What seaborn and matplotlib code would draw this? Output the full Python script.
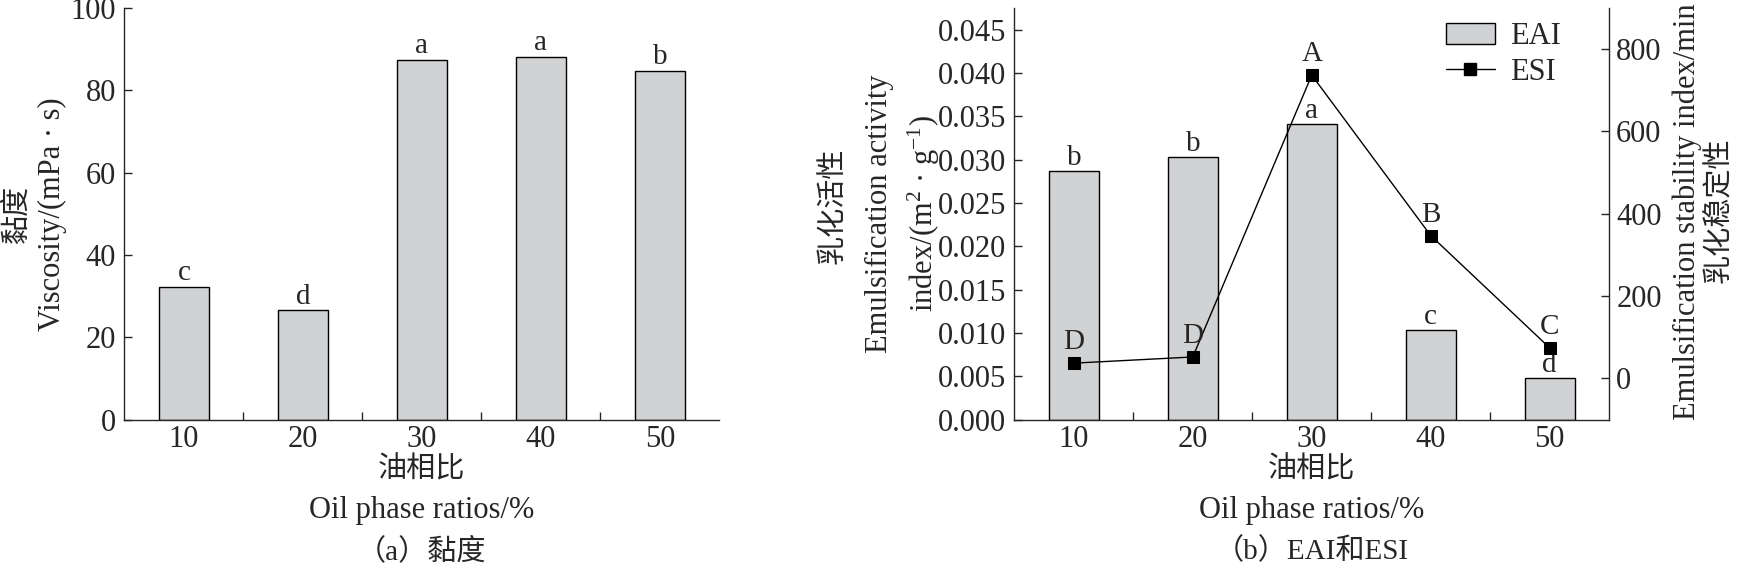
import numpy as np
import pandas as pd
import seaborn as sns
import matplotlib.pyplot as plt
from matplotlib.patches import Patch
from matplotlib.lines import Line2D
from matplotlib.ticker import FormatStrFormatter

# data
ratios = ['10', '20', '30', '40', '50']
viscosity = [32.3, 26.5, 87.4, 88.1, 84.6]
visc_letters = ['c', 'd', 'a', 'a', 'b']
eai = [0.0287, 0.0303, 0.0341, 0.0103, 0.0048]
eai_letters = ['b', 'b', 'a', 'c', 'd']
esi = [37, 52, 737, 347, 74]
esi_letters = ['D', 'D', 'A', 'B', 'C']

sns.set_style('ticks')
plt.rcParams['font.family'] = ['Liberation Serif', 'Noto Sans CJK SC']
plt.rcParams['mathtext.fontset'] = 'custom'
plt.rcParams['mathtext.rm'] = 'Liberation Serif'
plt.rcParams['mathtext.it'] = 'Liberation Serif:italic'
plt.rcParams['axes.linewidth'] = 1.0
plt.rcParams['xtick.direction'] = 'in'
plt.rcParams['ytick.direction'] = 'in'

bar_color = '#d1d2d4'
tick_fs = 22
lab_fs = 22
cjk_fs = 21
let_fs = 21

fig = plt.figure(figsize=(17.38, 5.67), dpi=100)
ax1 = fig.add_axes([0.0716, 0.2601, 0.3423, 0.7257])
ax2 = fig.add_axes([0.5836, 0.2601, 0.3423, 0.7257])

# (a) viscosity
df1 = pd.DataFrame({'ratio': ratios, 'viscosity': viscosity})
sns.barplot(data=df1, x='ratio', y='viscosity', color=bar_color, saturation=1,
            width=0.42, edgecolor='black', linewidth=1.0, errorbar=None, ax=ax1)
for i, (v, t) in enumerate(zip(viscosity, visc_letters)):
    ax1.annotate(t, (i, v), xytext=(0, 5), textcoords='offset points',
                 ha='center', va='baseline', fontsize=let_fs)
ax1.set_ylim(0, 100)
ax1.set_yticks(range(0, 101, 20))
sns.despine(ax=ax1)

# (b) EAI bars + ESI line
df2 = pd.DataFrame({'ratio': ratios, 'eai': eai})
sns.barplot(data=df2, x='ratio', y='eai', color=bar_color, saturation=1,
            width=0.42, edgecolor='black', linewidth=1.0, errorbar=None, ax=ax2)
for i, (v, t) in enumerate(zip(eai, eai_letters)):
    ax2.annotate(t, (i, v), xytext=(0, 4.5), textcoords='offset points',
                 ha='center', va='baseline', fontsize=let_fs)
ax2.set_ylim(0, 0.0475)
ax2.set_yticks(np.arange(0, 0.0451, 0.005))
ax2.yaxis.set_major_formatter(FormatStrFormatter('%.3f'))
ax2.spines['top'].set_visible(False)
ax2.spines['right'].set_visible(False)

ax2b = ax2.twinx()
sns.lineplot(x=np.arange(len(ratios)), y=esi, ax=ax2b, color='black', marker='s',
             markersize=8.5, markeredgecolor='black', linewidth=1.0)
for i, (v, t) in enumerate(zip(esi, esi_letters)):
    ax2b.annotate(t, (i, v), xytext=(0, 10), textcoords='offset points',
                  ha='center', va='baseline', fontsize=let_fs)
ax2b.set_ylim(-100, 900)
ax2b.set_yticks(range(0, 801, 200))
ax2b.spines['top'].set_visible(False)
ax2b.spines['left'].set_visible(False)
ax2b.spines['bottom'].set_visible(False)
ax2b.tick_params(axis='y', length=6, width=1.0, pad=5, labelsize=tick_fs)
ax2b.set_ylabel('')

for ax in (ax1, ax2):
    ax.set_xlim(-0.5, len(ratios) - 0.5)
    ax.set_xlabel('')
    ax.set_ylabel('')
    ax.set_xticks(np.arange(0.5, len(ratios) - 1, 1), minor=True)
    ax.tick_params(axis='x', which='major', length=0, pad=4, labelsize=tick_fs)
    ax.tick_params(axis='x', which='minor', length=6, width=1.0, direction='in')
    ax.tick_params(axis='y', length=6, width=1.0, pad=6, labelsize=tick_fs)
ax2b.set_xlim(-0.5, len(ratios) - 0.5)

handles = [Patch(facecolor=bar_color, edgecolor='black', linewidth=1.0, label='EAI'),
           Line2D([], [], color='black', marker='s', markersize=8.5, linewidth=1.0, label='ESI')]
ax2b.legend(handles=handles, loc='upper left', bbox_to_anchor=(0.725, 0.965),
            frameon=False, fontsize=lab_fs, handlelength=1.6, handletextpad=0.5,
            labelspacing=0.2, borderpad=0, borderaxespad=0)

# axis titles and captions
fig.text(0.0096, 0.6226, '黏度', rotation=90, ha='center', va='center', fontsize=cjk_fs)
fig.text(0.0302, 0.6226, 'Viscosity/(mPa · s)', rotation=90, ha='center', va='center', fontsize=lab_fs)

fig.text(0.4793, 0.638, '乳化活性', rotation=90, ha='center', va='center', fontsize=cjk_fs)
fig.text(0.5058, 0.6226, 'Emulsification activity', rotation=90, ha='center', va='center', fontsize=lab_fs)
fig.text(0.5315, 0.6226, 'index/(m$^{2}$ · g$^{-1}$)', rotation=90, ha='center', va='center', fontsize=lab_fs)

fig.text(0.9707, 0.626, 'Emulsification stability index/min', rotation=90, ha='center', va='center', fontsize=lab_fs)
fig.text(0.9892, 0.63, '乳化稳定性', rotation=90, ha='center', va='center', fontsize=cjk_fs)

for cx, cap in ((0.2427, '（a）黏度'), (0.7548, '（b）EAI和ESI')):
    fig.text(cx, 0.171, '油相比', ha='center', va='center', fontsize=cjk_fs)
    fig.text(cx, 0.1005, 'Oil phase ratios/%', ha='center', va='center', fontsize=lab_fs)
    fig.text(cx, 0.0282, cap, ha='center', va='center', fontsize=cjk_fs)

fig.savefig('out.png', dpi=100)
